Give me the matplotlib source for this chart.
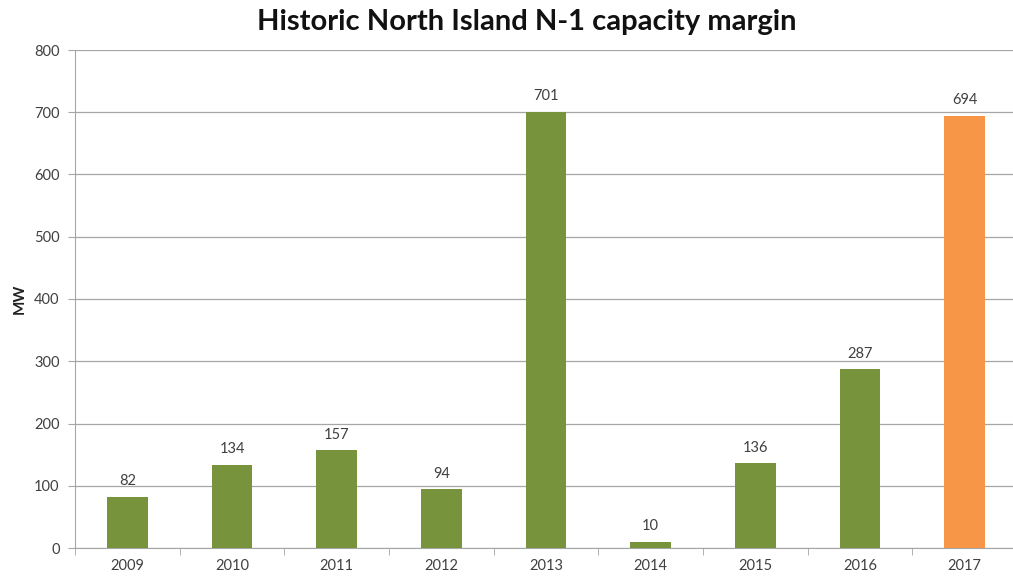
import matplotlib.pyplot as plt
import numpy as np

# chart data
years = ["2009", "2010", "2011", "2012", "2013", "2014", "2015", "2016", "2017"]
margin_mw = [82, 134, 157, 94, 701, 10, 136, 287, 694]
bar_colors = ["#77933C"] * 8 + ["#F79646"]

plt.rcParams["font.family"] = ["Lato", "DejaVu Sans"]

fig = plt.figure(figsize=(10.13, 5.82), dpi=100)
ax = fig.add_axes([75 / 1013, (582 - 548) / 582, 942 / 1013, 498 / 582])

x = np.arange(len(years))
bars = ax.bar(x, margin_mw, width=0.39, color=bar_colors, zorder=3)

for b, v in zip(bars, margin_mw):
    ax.text(b.get_x() + b.get_width() / 2, v + 14, str(v),
            ha="center", va="bottom", fontsize=10.5, color="#404040")

ax.set_xlim(-0.5, len(years) - 0.5)
ax.set_ylim(0, 800)
ax.set_yticks(range(0, 801, 100))
ax.set_xticks(x)
ax.set_xticklabels(years)
ax.set_xticks(np.arange(-0.5, len(years), 1), minor=True)

ax.yaxis.grid(True, color="#A6A6A6", linewidth=0.9, zorder=0)
for s in ["top", "right"]:
    ax.spines[s].set_visible(False)
ax.spines["left"].set_color("#A6A6A6")
ax.spines["bottom"].set_color("#A6A6A6")

ax.tick_params(axis="y", colors="#404040", labelsize=10.5, length=5, color="#A6A6A6", pad=6)
ax.tick_params(axis="x", which="major", length=0, colors="#404040", labelsize=10.5, pad=8)
ax.tick_params(axis="x", which="minor", length=5, color="#A6A6A6")

ax.set_ylabel("MW", fontsize=11, fontweight="bold", color="#222222", labelpad=5)
fig.text(527 / 1013, 1 - 22 / 582, "Historic North Island N-1 capacity margin",
         ha="center", va="center", fontsize=21, fontweight="bold", color="#111111")

fig.savefig("out.png", dpi=100)
